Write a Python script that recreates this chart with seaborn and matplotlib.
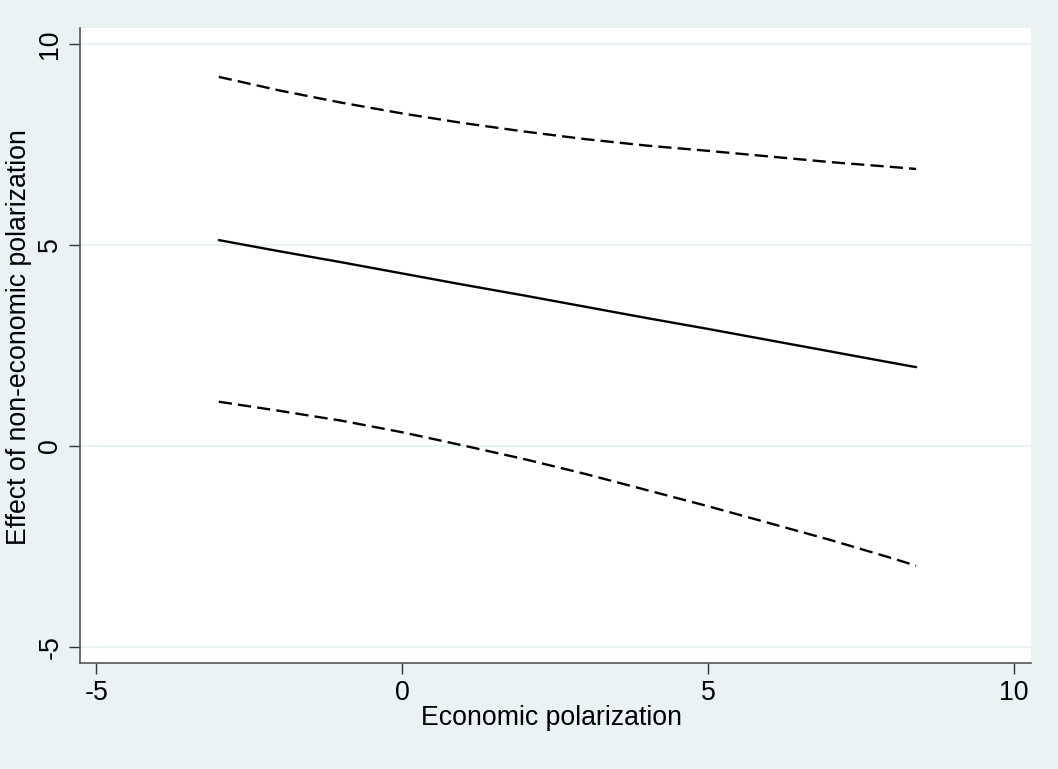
import matplotlib
matplotlib.use("Agg")
import matplotlib.pyplot as plt
import seaborn as sns
import pandas as pd

# === Data ===
econ_pol = [-3, -2, -1, 0, 1, 2, 3, 4, 5, 6, 7, 8, 8.4]
effect = [5.12, 4.84, 4.57, 4.29, 4.01, 3.74, 3.46, 3.18, 2.91, 2.63, 2.35, 2.07, 1.96]
upper_ci = [9.18, 8.84, 8.54, 8.27, 8.03, 7.82, 7.63, 7.47, 7.34, 7.20, 7.06, 6.94, 6.89]
lower_ci = [1.10, 0.87, 0.63, 0.34, 0.01, -0.33, -0.70, -1.10, -1.50, -1.92, -2.34, -2.79, -2.98]

x_ticks = [-5, 0, 5, 10]
y_ticks = [-5, 0, 5, 10]

df = pd.DataFrame({"x": econ_pol, "effect": effect, "upper": upper_ci, "lower": lower_ci})

# === Style ===
bg = "#EAF2F3"
sns.set_theme(style="white")
plt.rcParams["font.family"] = ["Liberation Sans", "DejaVu Sans"]

fig = plt.figure(figsize=(10.58, 7.69), dpi=100, facecolor=bg)
ax = fig.add_axes([0.0756, 0.1378, 0.899, 0.826])
ax.set_facecolor("white")

lw = 1.7
dash = (0, (5.6, 2.6))
sns.lineplot(data=df, x="x", y="effect", ax=ax, color="black", linewidth=lw)
sns.lineplot(data=df, x="x", y="upper", ax=ax, color="black", linewidth=lw,
             dashes=False, linestyle=dash)
sns.lineplot(data=df, x="x", y="lower", ax=ax, color="black", linewidth=lw,
             dashes=False, linestyle=dash)

ax.set_xlim(-5.27, 10.28)
ax.set_ylim(-5.4, 10.4)
ax.set_xticks(x_ticks)
ax.set_yticks(y_ticks)
ax.set_xticklabels([str(t) for t in x_ticks], fontsize=19.3)
ax.set_yticklabels([str(t) for t in y_ticks], fontsize=19.3, rotation=90, va="center")

ax.yaxis.grid(True, color=bg, linewidth=1.6)
ax.xaxis.grid(False)
ax.set_axisbelow(True)

for side in ["top", "right"]:
    ax.spines[side].set_visible(False)
for side in ["left", "bottom"]:
    ax.spines[side].set_color("#555555")
    ax.spines[side].set_linewidth(1.2)

ax.tick_params(axis="both", which="major", direction="out", length=8, width=1,
               color="#333333", labelcolor="black", bottom=True, left=True, pad=4)

ax.set_xlabel("Economic polarization", fontsize=19.2, color="black", labelpad=0)
ax.set_ylabel("Effect of non-economic polarization", fontsize=19.2, color="black", labelpad=4)
ax.xaxis.set_label_coords(0.496, -0.066)
ax.yaxis.label.set_y(0.513)

fig.savefig("out.png", dpi=100, facecolor=bg)
